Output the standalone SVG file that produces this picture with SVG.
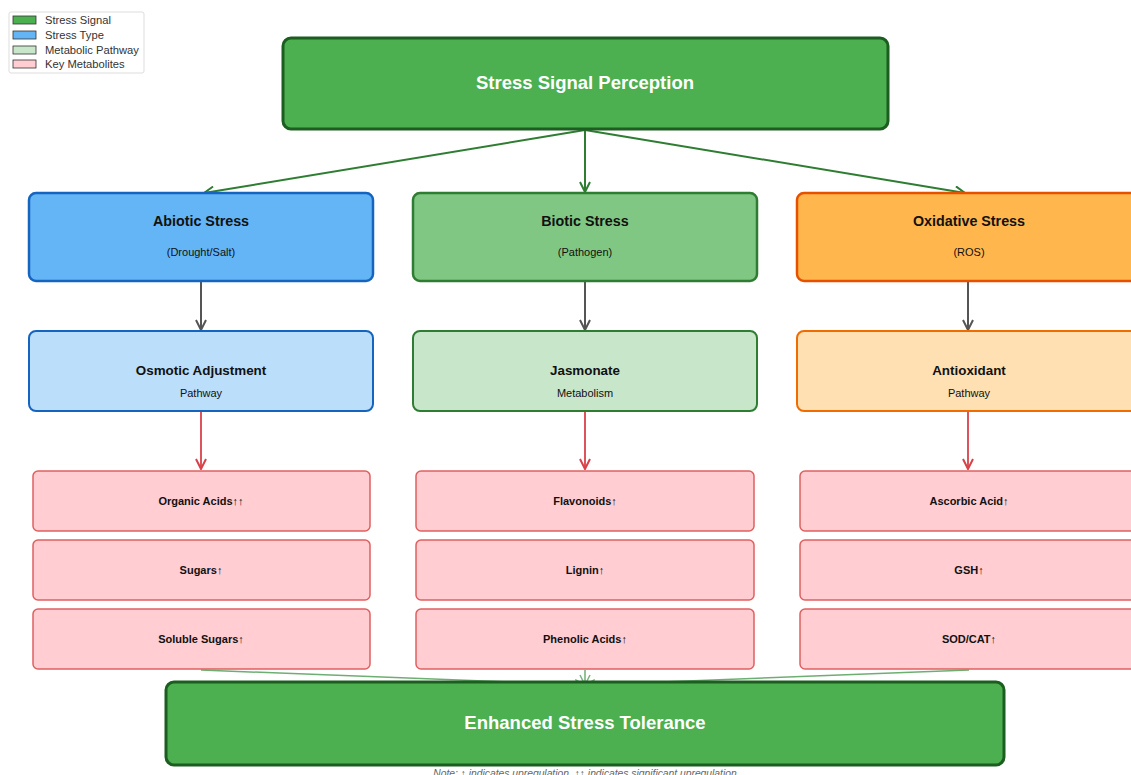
<svg xmlns="http://www.w3.org/2000/svg" width="1131" height="775" viewBox="0 0 1131 775">
<defs>
<marker id="aG" viewBox="0 0 12 12" refX="11" refY="6" markerWidth="12" markerHeight="12" markerUnits="userSpaceOnUse" orient="auto"><path d="M1,1 L11,6 L1,11" fill="none" stroke="#2e7d32" stroke-width="2"/></marker>
<marker id="aK" viewBox="0 0 12 12" refX="11" refY="6" markerWidth="12" markerHeight="12" markerUnits="userSpaceOnUse" orient="auto"><path d="M1,1 L11,6 L1,11" fill="none" stroke="#555" stroke-width="2"/></marker>
<marker id="aR" viewBox="0 0 12 12" refX="11" refY="6" markerWidth="12" markerHeight="12" markerUnits="userSpaceOnUse" orient="auto"><path d="M1,1 L11,6 L1,11" fill="none" stroke="#d9414a" stroke-width="2"/></marker>
<marker id="aL" viewBox="0 0 12 12" refX="11" refY="6" markerWidth="12" markerHeight="12" markerUnits="userSpaceOnUse" orient="auto"><path d="M1,1 L11,6 L1,11" fill="none" stroke="#5a9e5e" stroke-width="1.5"/></marker>
</defs>
<style>
text{font-family:"Liberation Sans",Arial,sans-serif;text-anchor:middle;fill:#111}
.big{font-size:18.5px;font-weight:bold;fill:#fff}
.t{font-size:14.3px;font-weight:bold}
.p{font-size:13.4px;font-weight:bold}
.s{font-size:11px}
.m{font-size:11px;font-weight:bold}
.lg{font-size:11.2px;text-anchor:start;fill:#333}
.sig{fill:#4caf50;stroke:#1b5e20;stroke-width:3}
.met{fill:#ffcdd2;stroke:#e06060;stroke-width:1.5}
.c1{stroke:#2e7d32;stroke-width:2;fill:none}
.c2{stroke:#555;stroke-width:2;fill:none}
.c3{stroke:#d9414a;stroke-width:1.8;fill:none}
.c4{stroke:#4c9a50;stroke-width:1.5;fill:none;opacity:0.8}
</style>
<rect width="1131" height="775" fill="#fff"/>
<g id="legend">
<rect x="9" y="12" width="135" height="61" rx="2" fill="#fff" stroke="#ddd"/>
<rect x="13" y="16" width="23" height="8" fill="#4caf50" stroke="#333" stroke-width="0.8"/>
<text class="lg" x="45" y="24">Stress Signal</text>
<rect x="13" y="31" width="23" height="8" fill="#64b5f6" stroke="#333" stroke-width="0.8"/>
<text class="lg" x="45" y="39">Stress Type</text>
<rect x="13" y="46" width="23" height="8" fill="#c8e6c9" stroke="#333" stroke-width="0.8"/>
<text class="lg" x="45" y="54">Metabolic Pathway</text>
<rect x="13" y="60" width="23" height="8" fill="#ffcdd2" stroke="#333" stroke-width="0.8"/>
<text class="lg" x="45" y="68">Key Metabolites</text>
</g>
<g id="connectors">
<line class="c1" x1="585" y1="130" x2="204" y2="193" marker-end="url(#aG)"/>
<line class="c1" x1="585" y1="130" x2="585" y2="192" marker-end="url(#aG)"/>
<line class="c1" x1="585" y1="130" x2="965" y2="193" marker-end="url(#aG)"/>
<line class="c2" x1="201" y1="282" x2="201" y2="330" marker-end="url(#aK)"/>
<line class="c2" x1="585" y1="282" x2="585" y2="330" marker-end="url(#aK)"/>
<line class="c2" x1="968" y1="282" x2="968" y2="330" marker-end="url(#aK)"/>
<line class="c3" x1="201" y1="412" x2="201" y2="469" marker-end="url(#aR)"/>
<line class="c3" x1="585" y1="412" x2="585" y2="469" marker-end="url(#aR)"/>
<line class="c3" x1="968" y1="412" x2="968" y2="469" marker-end="url(#aR)"/>
<line class="c4" x1="201" y1="670" x2="585" y2="685" marker-end="url(#aL)"/>
<line class="c4" x1="585" y1="670" x2="585" y2="685" marker-end="url(#aL)"/>
<line class="c4" x1="969" y1="670" x2="585" y2="685" marker-end="url(#aL)"/>
</g>
<g id="perception"><rect class="sig" x="283" y="38" width="605" height="91" rx="8"/><text class="big" x="585" y="89">Stress Signal Perception</text></g>
<g id="abiotic"><rect x="29" y="193" width="344" height="88" rx="7" fill="#64b5f6" stroke="#1565c0" stroke-width="2.5"/><text class="t" x="201" y="226">Abiotic Stress</text><text class="s" x="201" y="256">(Drought/Salt)</text></g>
<g id="biotic"><rect x="413" y="193" width="344" height="88" rx="7" fill="#81c784" stroke="#2e7d32" stroke-width="2.5"/><text class="t" x="585" y="226">Biotic Stress</text><text class="s" x="585" y="256">(Pathogen)</text></g>
<g id="oxidative"><rect x="797" y="193" width="344" height="88" rx="7" fill="#ffb74d" stroke="#e65100" stroke-width="2.5"/><text class="t" x="969" y="226">Oxidative Stress</text><text class="s" x="969" y="256">(ROS)</text></g>
<g id="osmotic"><rect x="29" y="331" width="344" height="80" rx="7" fill="#bbdefb" stroke="#1565c0" stroke-width="2"/><text class="p" x="201" y="375">Osmotic Adjustment</text><text class="s" x="201" y="397">Pathway</text></g>
<g id="jasmonate"><rect x="413" y="331" width="344" height="80" rx="7" fill="#c8e6c9" stroke="#2e7d32" stroke-width="2"/><text class="p" x="585" y="375">Jasmonate</text><text class="s" x="585" y="397">Metabolism</text></g>
<g id="antioxidant"><rect x="797" y="331" width="344" height="80" rx="7" fill="#ffe0b2" stroke="#ef6c00" stroke-width="2"/><text class="p" x="969" y="375">Antioxidant</text><text class="s" x="969" y="397">Pathway</text></g>
<g id="organic-acids"><rect class="met" x="33" y="471" width="337" height="60" rx="5"/><text class="m" x="201" y="505">Organic Acids↑↑</text></g>
<g id="sugars"><rect class="met" x="33" y="540" width="337" height="60" rx="5"/><text class="m" x="201" y="574">Sugars↑</text></g>
<g id="soluble-sugars"><rect class="met" x="33" y="609" width="337" height="60" rx="5"/><text class="m" x="201" y="643">Soluble Sugars↑</text></g>
<g id="flavonoids"><rect class="met" x="416" y="471" width="338" height="60" rx="5"/><text class="m" x="585" y="505">Flavonoids↑</text></g>
<g id="lignin"><rect class="met" x="416" y="540" width="338" height="60" rx="5"/><text class="m" x="585" y="574">Lignin↑</text></g>
<g id="phenolic-acids"><rect class="met" x="416" y="609" width="338" height="60" rx="5"/><text class="m" x="585" y="643">Phenolic Acids↑</text></g>
<g id="ascorbic-acid"><rect class="met" x="800" y="471" width="338" height="60" rx="5"/><text class="m" x="969" y="505">Ascorbic Acid↑</text></g>
<g id="gsh"><rect class="met" x="800" y="540" width="338" height="60" rx="5"/><text class="m" x="969" y="574">GSH↑</text></g>
<g id="sod-cat"><rect class="met" x="800" y="609" width="338" height="60" rx="5"/><text class="m" x="969" y="643">SOD/CAT↑</text></g>
<g id="tolerance"><rect class="sig" x="166" y="682" width="838" height="83" rx="8"/><text class="big" x="585" y="729">Enhanced Stress Tolerance</text></g>
<text x="585" y="777" style="font-size:10.3px;font-style:italic;fill:#666">Note: ↑ indicates upregulation, ↑↑ indicates significant upregulation</text>
</svg>
